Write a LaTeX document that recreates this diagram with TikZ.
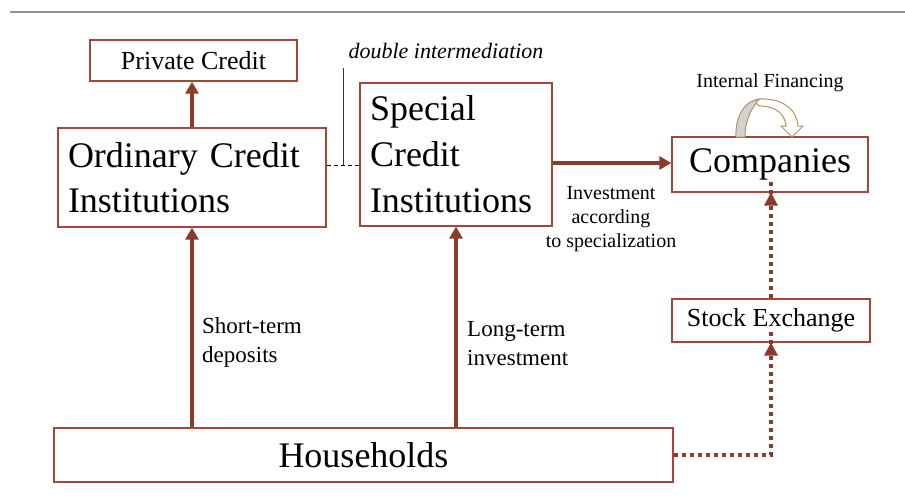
\documentclass[tikz,border=0pt]{standalone}
\usepackage{fontspec}
\setmainfont{Liberation Serif}
\usetikzlibrary{arrows.meta}
\definecolor{flowred}{HTML}{8C3A2C}
\definecolor{boxred}{HTML}{A5463A}
\definecolor{ribbon}{HTML}{B8915E}
\definecolor{ribbonback}{HTML}{D2D2D2}
\begin{document}
\begin{tikzpicture}[x=1pt,y=-1pt,
  box/.style={draw=boxred,line width=1.3pt,fill=white,inner sep=0pt},
  flow/.style={draw=flowred,line width=3.6pt,-{Triangle[length=12pt,width=13pt]}},
  dotflow/.style={draw=flowred,line width=3.6pt,dash pattern=on 4.5pt off 3.5pt},
  lbl/.style={inner sep=0pt,align=left}
]
\useasboundingbox (0,0) rectangle (905,496);
% rule across the top
\draw[gray!85,line width=1.4pt] (10,12) -- (905,12);

% boxes
\node[box,minimum width=207pt,minimum height=41pt,font=\fontsize{26}{30}\selectfont]
  (pc) at (193.5,60.5) {Private Credit};
\node[box,minimum height=99pt,text width=248pt,inner xsep=10pt,align=left,
  font=\fontsize{36}{45}\selectfont]
  (oci) at (192,177.5) {Ordinary Credit\\Institutions};
\node[box,minimum height=143pt,text width=172pt,inner xsep=10pt,align=left,
  font=\fontsize{36}{46}\selectfont]
  (sci) at (456,154.5) {Special\\Credit\\Institutions};
\node[box,minimum width=196pt,minimum height=55pt,font=\fontsize{36}{40}\selectfont]
  (co) at (770,164.5) {Companies};
\node[box,minimum width=198pt,minimum height=43pt,font=\fontsize{26}{30}\selectfont]
  (se) at (771,320.5) {Stock Exchange};
\node[box,minimum width=619pt,minimum height=54pt,font=\fontsize{36}{40}\selectfont]
  (hh) at (363.5,455) {Households};

% solid flows
\draw[flow] (oci.north) -- (oci.north |- pc.south);
\draw[flow] (hh.north -| oci.south) -- (oci.south);
\draw[flow] (hh.north -| sci.south) -- (sci.south);
\coordinate (inv) at (560,163);
\draw[flow] (sci.east |- inv) -- (co.west |- inv);

% dotted flows through the stock exchange
\coordinate (corner) at (se.south |- hh.east);
\draw[dotflow] (hh.east) -- (corner) -- ([yshift=11pt]se.south);
\fill[flowred] (se.south) -- ++(-7,13) -- ++(14,0) -- cycle;
\draw[dotflow] (se.north) -- ([yshift=12pt]se.north |- co.south);
\fill[flowred] (se.north |- co.south) -- ++(-7,13) -- ++(14,0) -- cycle;

% double intermediation marker
\coordinate (dj) at (343,165);
\coordinate (dtop) at (343,68);
\draw[black,line width=0.7pt,dash pattern=on 4pt off 3pt] (oci.east |- dj) -- (sci.west |- dj);
\draw[black!80,line width=0.7pt] (dtop) -- (dj);
\node[inner sep=0pt,font=\fontsize{22}{26}\selectfont\itshape] (dint) at (446,51) {double intermediation};

% flow labels
\node[lbl,anchor=west,font=\fontsize{23}{29}\selectfont] (std) at (202,342) {Short-term\\deposits};
\node[lbl,anchor=west,font=\fontsize{23}{29}\selectfont] (lti) at (467,344) {Long-term\\investment};
\node[inner sep=0pt,align=center,font=\fontsize{20}{24}\selectfont] (ias) at (611,219)
  {Investment\\according\\to specialization};

% internal financing ribbon arrow
\node[inner sep=0pt,font=\fontsize{20}{24}\selectfont] (intf) at (770,83) {Internal Financing};
\filldraw[fill=ribbonback,draw=ribbon,line width=1pt]
  (736,137) .. controls (735,116) and (745,100) .. (760,99)
  .. controls (753,106) and (745,118) .. (745,137) -- cycle;
\filldraw[fill=white,draw=ribbon,line width=1pt]
  (760,99) .. controls (783,98) and (797,110) .. (798,126)
  -- (803,126) -- (792,137) -- (781,126) -- (786,126)
  .. controls (785,114) and (776,107) .. (762,106)
  .. controls (758,106) and (756,104) .. (756,102) -- cycle;
\end{tikzpicture}
\end{document}
